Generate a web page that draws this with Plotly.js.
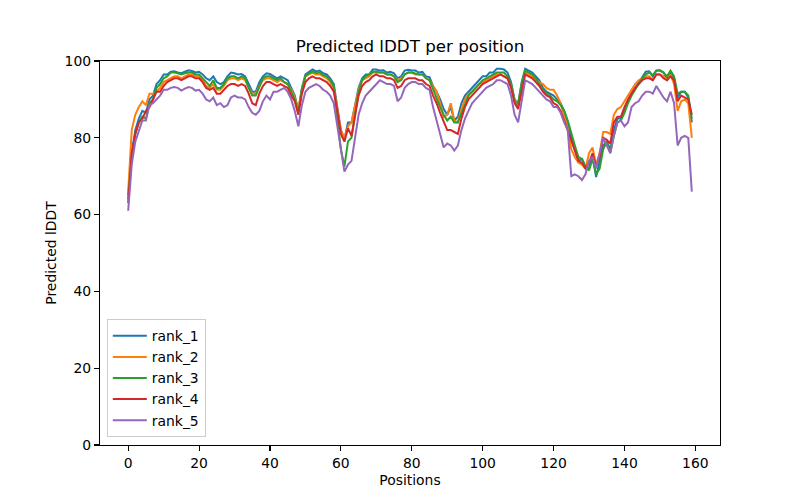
<!DOCTYPE html>
<html>
<head>
<meta charset="utf-8">
<script src="https://cdn.plot.ly/plotly-3.0.1.min.js"></script>
<style>html,body{margin:0;padding:0;background:#fff;}#chart{width:800px;height:500px;}</style>
</head>
<body>
<div id="chart"></div>
<script>
const seriesNames = ["rank_1", "rank_2", "rank_3", "rank_4", "rank_5"];
const seriesColors = ["#1f77b4", "#ff7f0e", "#2ca02c", "#d62728", "#9467bd"];
const xTicks = [0, 20, 40, 60, 80, 100, 120, 140, 160];
const yTicks = [0, 20, 40, 60, 80, 100];

const rank_1 = [65,76,82,85,87,86.5,90,91,94,95,96.5,96.5,97.2,97.3,97.0,96.8,97.2,97.6,97.4,97.0,
97.2,96.5,95.5,95.0,96.0,94.5,94.0,94.5,96.0,97.0,96.8,96.5,96.6,96.0,94.0,92.0,92.0,94.5,96.0,96.8,
96.6,96.0,95.5,96.0,95.5,95.0,93.0,91.0,87.0,93.0,96.5,97.2,97.8,97.3,97.5,96.8,96.5,95.5,94.0,88.0,
82.0,79.5,84.0,84.0,88.5,93.0,95.5,96.5,96.5,97.8,97.8,97.5,97.6,97.0,97.2,96.8,95.5,96.0,97.5,97.7,
97.5,97.5,97.0,97.2,96.0,95.8,93.5,92.0,90.0,87.5,86.0,88.0,84.5,85.5,89.0,91.0,92.0,93.0,94.0,95.0,
96.0,96.0,97.0,97.0,98.0,98.0,97.8,97.0,94.5,90.0,89.0,94.5,98.0,97.5,97.0,96.0,95.0,93.0,92.0,91.5,
91.0,90.0,89.0,87.0,84.0,80.0,77.0,74.0,74.5,72.5,72.0,75.5,69.8,73.5,78.0,79.0,77.0,82.0,85.0,85.0,
87.5,89.5,91.5,93.0,94.5,96.0,97.2,97.3,96.0,97.5,97.6,97.0,95.5,97.0,95.5,90.5,92.0,92.0,90.5,84.0];

const rank_2 = [66,82,86,88,89.5,88.5,91.5,91.5,92,93,94.5,95,95.5,96,96,95.5,96,96.5,96.5,96,
96,95,93.5,93,94,92.5,92.5,93.5,95,95.5,95.5,95,95.5,95,93,91.5,91.5,93.5,95,95.5,
95.5,95,94.5,95,94.5,94,92.5,90.5,87.5,92.5,96,96.5,97,96.5,96.5,96,95.5,94.5,93,87.5,
82,80,83,84,88,92.5,95,95.5,96,97,97,97,97,96.5,96.5,96,95,95.5,96.5,97,
97,96.5,96.5,96.5,95.5,95,93.5,92,89,85.5,86,89,84.5,84,87.5,90,91.5,92,93,94,
94.5,95,95.5,96,96.5,96.5,96,95.5,93.5,90,88.5,93.5,97,96.5,96,95,94.5,94,93,92.5,
92.5,91,89,86,82.5,77,75,73.5,73,72,76,77.5,73,76,81.5,81.5,81,86,87.5,88,
89.5,91,92.5,94,95,95.5,96,96,95,96.5,96.5,96,95,96.5,94,87,89.5,90,89,80];

const rank_3 = [64,75,81,84,85.5,85,89,90,93,94,95.5,96,97,97,96.8,96.5,96.8,97,97,96.5,
96.5,95.5,94.5,93.5,95,93,93,94,95.5,96,96,95.5,96,95.5,93,91,91,93.5,95.5,96,
96,95.5,95,95.5,94.5,94,92,90,86.5,92.5,96,96.8,97.3,96.8,97,96.3,96,95,93.5,86,
77,72.5,79,80,86,92,95,96,96.5,97.2,97.2,97,97,96.5,96.5,96,94.5,95,96.5,97,
97,96.8,96.5,96.5,95.5,95,92.5,90,88,86,84.5,85.5,84,84,86.5,89,91,92,93,94,
95,95.5,96,96.5,97,97,97,96,94,89.5,88.5,94,97.5,97,96.5,95.5,94,92.5,91.5,91,
90,89.5,88.5,87,84.5,81,78,75,74.5,72.5,71.5,74.5,70.5,72,77,79,76,80.5,84,84.5,
86.5,89,91,92.5,94,95.5,96.5,97,96.3,97.5,97.5,97,96,97.5,96,91.5,92,92,91,85];

const rank_4 = [63,76,81,84,85,87,88,90,92,92,93.5,94.5,95,95.5,95.5,95,95.5,96,96,95.5,
95.5,94.5,93,92.5,93,91.5,91.5,92.5,93.5,94,94,93.5,94,93.5,91.5,89,88.5,91.5,93.5,94.5,
94.5,94,93.5,94,93.5,93,91,89.5,86,91.5,94.5,95.5,96,95.5,95.5,95,94.5,93.5,92,87,
81,79,82.5,80.5,86,91,93.5,94.5,95,96,96.5,96,96,95.5,95.5,95,93,93.5,95,95.5,
95.5,95.5,95,95,94,93.5,91,89,86.5,84,82,82,81.5,81,85,88,90,91,92,93,
94,94.5,95,95.5,96,96.5,96,95.5,93,89,87.5,92.5,96.5,96,95.5,94.5,93.5,92,91,90.5,
89,88.5,87,84.5,82,79,76.5,74,73.5,72,73.5,76,72.5,75,80,79.5,78.5,84,85.5,85.5,
88,90,91.5,93,94,95,95.5,95.5,95,96.5,96.5,95.5,95,96,95,89.5,91,90.5,90,86];

const rank_5 = [61,73,79,82,84.5,84.5,88.5,89,90,91,92.5,92.5,93,93.2,93,92.3,92.8,93.2,93,92.3,
92.5,91.5,90,89.5,90.5,88.5,89,88,88.5,90.5,91,90.5,90.5,90,88,86.5,86,87,89.5,91,
90,92,92,92.5,93,92,90,87,83,88.5,92,93,93.5,94,93.5,92.5,92,91,89,83,
76,71.2,73,74,80,86,89,91,92,93,94,95,94.5,94,94,93.5,89.5,90.5,93,94,
94.5,94.5,94,94,93,92.5,88,84.5,81,77.5,78.5,78,76.7,78,82,85,87,89,90,91,
92,93,93.5,94,95,95,94.5,94,91,86,84,89,95,94.5,94,93,92,91,90,89.5,
88,88,86.5,84,82,70,70.5,70,69,70.5,74,75,72,76,80,78,76,80.5,84,84.5,
83,84,88,89,89.5,91,92,92,91.5,93.5,92,90.5,89.5,92,89,78,80,80.5,80,66];

const allSeries = [rank_1, rank_2, rank_3, rank_4, rank_5];

const traces = allSeries.map((ys, k) => ({
  type: "scatter",
  mode: "lines",
  name: seriesNames[k],
  x: ys.map((_, i) => i),
  y: ys,
  line: {color: seriesColors[k], width: 2}
}));

const fontFam = "DejaVu Sans, sans-serif";
const layout = {
  width: 800, height: 500,
  paper_bgcolor: "#fff", plot_bgcolor: "#fff",
  margin: {l: 100, r: 80, t: 61, b: 55, pad: 0},
  font: {family: fontFam, size: 13.9, color: "#000"},
  title: {text: "Predicted lDDT per position", font: {family: fontFam, size: 16.7, color: "#000"},
          x: 0.5, xref: "paper", xanchor: "center", y: 1 - 46/500, yref: "container", yanchor: "middle"},
  xaxis: {
    range: [-7.95, 166.95], tickvals: xTicks, ticktext: xTicks.map(String),
    showgrid: false, zeroline: false, showline: true, mirror: true, linecolor: "#000", linewidth: 1.1,
    ticks: "outside", ticklen: 5, tickwidth: 1.1, tickcolor: "#000",
    tickfont: {family: fontFam, size: 13.9, color: "#000"},
    title: {text: "Positions", font: {family: fontFam, size: 13.9, color: "#000"}, standoff: 5}
  },
  yaxis: {
    range: [0, 100], tickvals: yTicks, ticktext: yTicks.map(String),
    showgrid: false, zeroline: false, showline: true, mirror: true, linecolor: "#000", linewidth: 1.1,
    ticks: "outside", ticklen: 5, tickwidth: 1.1, tickcolor: "#000",
    tickfont: {family: fontFam, size: 13.9, color: "#000"},
    title: {text: "Predicted lDDT", font: {family: fontFam, size: 13.9, color: "#000"}, standoff: 4}
  },
  showlegend: true,
  legend: {
    x: 0.011, y: 0.02, xanchor: "left", yanchor: "bottom",
    bgcolor: "rgba(255,255,255,0.8)", bordercolor: "#cccccc", borderwidth: 1,
    font: {family: fontFam, size: 13.9, color: "#000"},
    tracegroupgap: 0, itemwidth: 34
  }
};

Plotly.newPlot("chart", traces, layout, {displayModeBar: false, staticPlot: true});
</script>
</body>
</html>
